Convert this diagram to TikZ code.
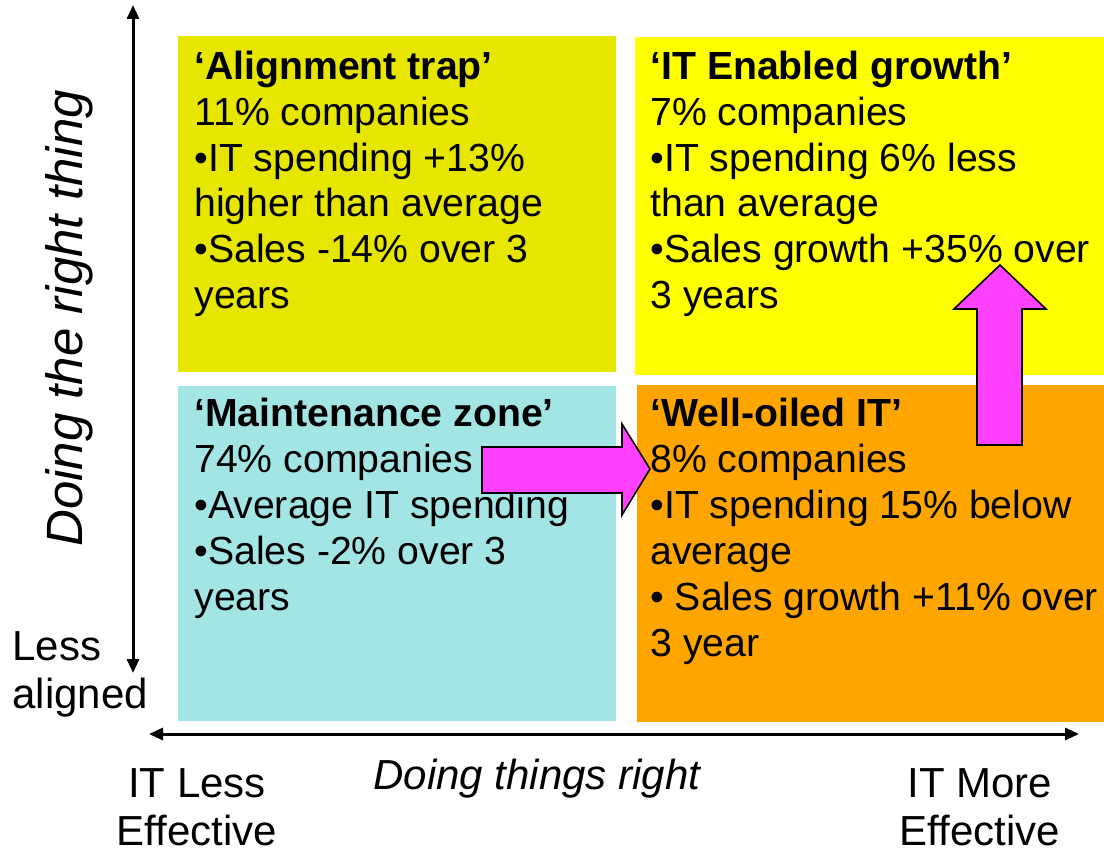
\documentclass[tikz,border=0pt]{standalone}
\usepackage{fontspec}
\setmainfont{Liberation Sans}
\usetikzlibrary{arrows.meta}
\definecolor{trapolive}{RGB}{230,230,0}
\definecolor{growthyellow}{RGB}{255,255,0}
\definecolor{zonecyan}{RGB}{163,228,228}
\definecolor{oiledorange}{RGB}{255,165,0}
\definecolor{movepink}{RGB}{255,64,255}
\begin{document}
\begin{tikzpicture}[x=0.5pt,y=-0.5pt,
  quad/.style={draw=none,inner sep=0,outer sep=0,anchor=north west},
  % multi-line nodes are placed by the baseline of their last line
  body/.style={anchor=base west,align=left,inner sep=0,
    font=\fontsize{19.6pt}{23pt}\selectfont},
  axistext/.style={align=center,inner sep=0,
    font=\fontsize{21pt}{24pt}\selectfont},
  axis/.style={line width=1.5pt,
    {Triangle[length=7pt,width=6pt]}-{Triangle[length=7pt,width=6pt]}},
  move/.style={fill=movepink,draw=black,line width=0.8pt,line join=miter}]
\useasboundingbox (0,0) rectangle (1104,850);

% quadrants
\node[quad,fill=trapolive,minimum width=219pt,minimum height=168pt] (trap) at (178,36) {};
\node[quad,fill=growthyellow,minimum width=236pt,minimum height=169pt] (growth) at (635,37) {};
\node[quad,fill=zonecyan,minimum width=219pt,minimum height=167.5pt] (zone) at (178,386) {};
\node[quad,fill=oiledorange,minimum width=235pt,minimum height=168.5pt] (oiled) at (637,385) {};

% quadrant texts
\node[body] (traptext) at (194,309) {\textbf{‘Alignment trap’}\\11\% companies\\•IT spending +13\%\\higher than average\\•Sales -14\% over 3\\years};
\node[body] (growthtext) at (650,309) {\textbf{‘IT Enabled growth’}\\7\% companies\\•IT spending 6\% less\\than average\\•Sales growth +35\% over\\3 years};
\node[body] (zonetext) at (194,610) {\textbf{‘Maintenance zone’}\\74\% companies\\•Average IT spending\\•Sales -2\% over 3\\years};
\node[body] (oiledtext) at (650,656) {\textbf{‘Well-oiled IT’}\\8\% companies\\•IT spending 15\% below\\average\\• Sales growth +11\% over\\3 year};

% axes
\coordinate (ytop) at (133,5);
\coordinate (ybot) at (133,673);
\coordinate (xleft) at (149,734);
\coordinate (xright) at (1079,734);
\draw[axis] (ybot) -- (ytop);
\draw[axis] (xleft) -- (xright);

% axis labels
\node[inner sep=0,rotate=90,anchor=base west,font=\fontsize{25.5pt}{30pt}\selectfont\itshape] (ylabel) at (83,547) {Doing the right thing};
\node[axistext,align=left,anchor=base west] (lessaligned) at (12,708) {Less\\aligned};
\node[axistext,anchor=base west,font=\fontsize{21pt}{24pt}\selectfont\itshape] (xlabel) at (373,789) {Doing things right};
\node[axistext,anchor=base] (lesseff) at (197,845) {IT Less\\Effective};
\node[axistext,anchor=base] (moreeff) at (980,845) {IT More\\Effective};

% movement arrows
\draw[move] (482,447) -- (622,447) -- (622,424) -- (650,469) -- (622,515) -- (622,493) -- (482,493) -- cycle;
\draw[move] (977,445) -- (977,309) -- (954,309) -- (1000,265) -- (1046,309) -- (1022,309) -- (1022,445) -- cycle;
\end{tikzpicture}
\end{document}
